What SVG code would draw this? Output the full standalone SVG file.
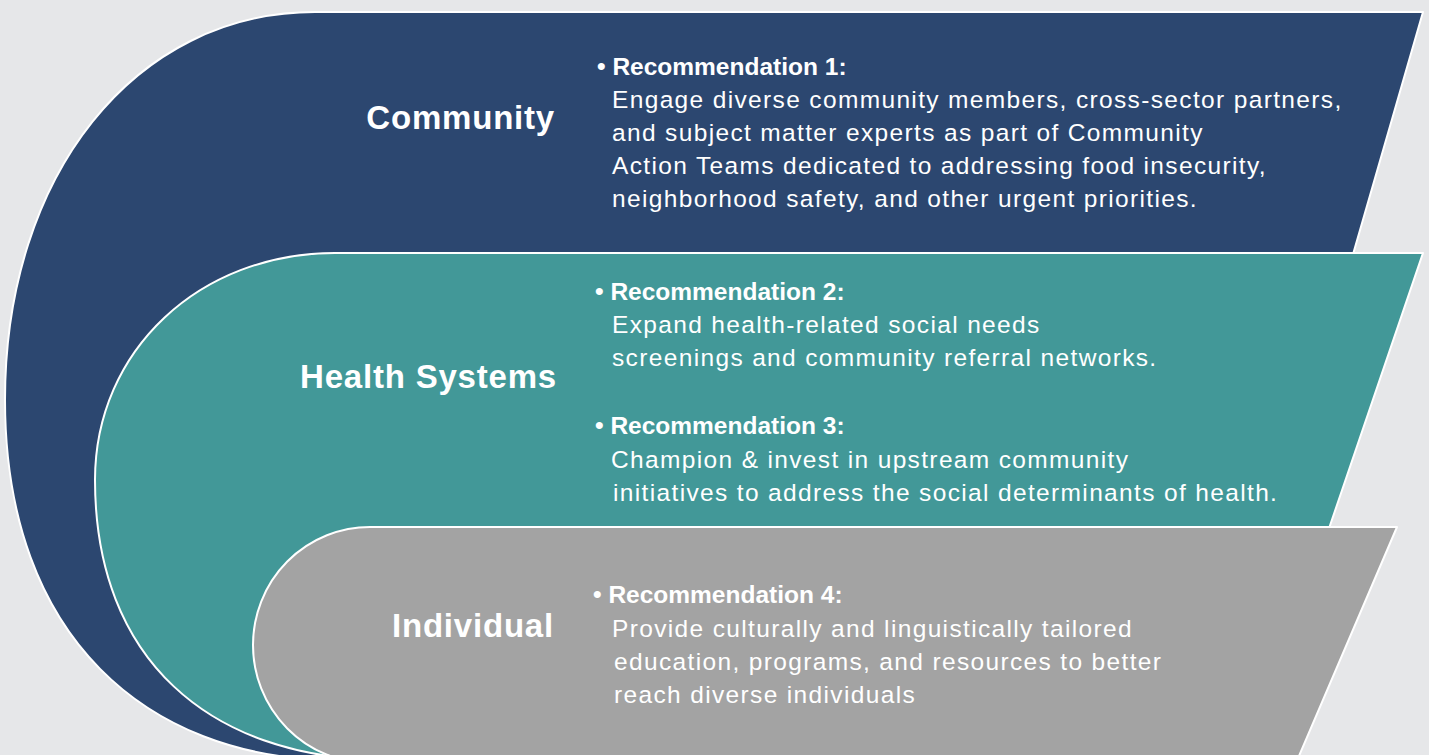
<svg xmlns="http://www.w3.org/2000/svg" width="1429" height="755" viewBox="0 0 1429 755">
<style>
.band{stroke:#ffffff;stroke-width:2;stroke-linejoin:round}
.lbl{font-family:"Liberation Sans",Arial,sans-serif;font-weight:bold;font-size:33px;fill:#ffffff;text-anchor:end;letter-spacing:0.8px}
.hd{font-family:"Liberation Sans",Arial,sans-serif;font-weight:bold;font-size:24.5px;fill:#ffffff}
.bd{font-family:"Liberation Sans",Arial,sans-serif;font-size:24.5px;fill:#ffffff;letter-spacing:1.35px}
</style>
<rect x="0" y="0" width="1429" height="755" fill="#e6e7e9"/>
<g id="community">
<path class="band" fill="#2c4770" d="M1423,12 L1207,760 L330,760 C150,757 5,640 5,400 C5,175 135,12 315,12 Z"/>
<text class="lbl" x="555" y="129">Community</text>
<text class="hd" x="597" y="75">• Recommendation 1:</text>
<text class="bd" x="612" y="108">Engage diverse community members, cross-sector partners,</text>
<text class="bd" x="612" y="141">and subject matter experts as part of Community</text>
<text class="bd" x="612" y="174">Action Teams dedicated to addressing food insecurity,</text>
<text class="bd" x="612" y="207">neighborhood safety, and other urgent priorities.</text>
</g>
<g id="health-systems">
<path class="band" fill="#429898" d="M1423,253 L1250,760 L380,760 C210,757 95,660 95,480 C95,350 200,253 335,253 Z"/>
<text class="lbl" x="557" y="388">Health Systems</text>
<text class="hd" x="595" y="300">• Recommendation 2:</text>
<text class="bd" x="612" y="333">Expand health-related social needs</text>
<text class="bd" x="612" y="366">screenings and community referral networks.</text>
<text class="hd" x="595" y="434">• Recommendation 3:</text>
<text class="bd" x="611" y="468">Champion &amp; invest in upstream community</text>
<text class="bd" x="613" y="501">initiatives to address the social determinants of health.</text>
</g>
<g id="individual">
<path class="band" fill="#a3a3a3" d="M370,527 L1397,527 L1296,763 L370,763 A117,118 0 0 1 370,527 Z"/>
<text class="lbl" x="554" y="637">Individual</text>
<text class="hd" x="593" y="603">• Recommendation 4:</text>
<text class="bd" x="612" y="637">Provide culturally and linguistically tailored</text>
<text class="bd" x="614" y="670">education, programs, and resources to better</text>
<text class="bd" x="614" y="703">reach diverse individuals</text>
</g>
<g id="connectors"/>
</svg>
